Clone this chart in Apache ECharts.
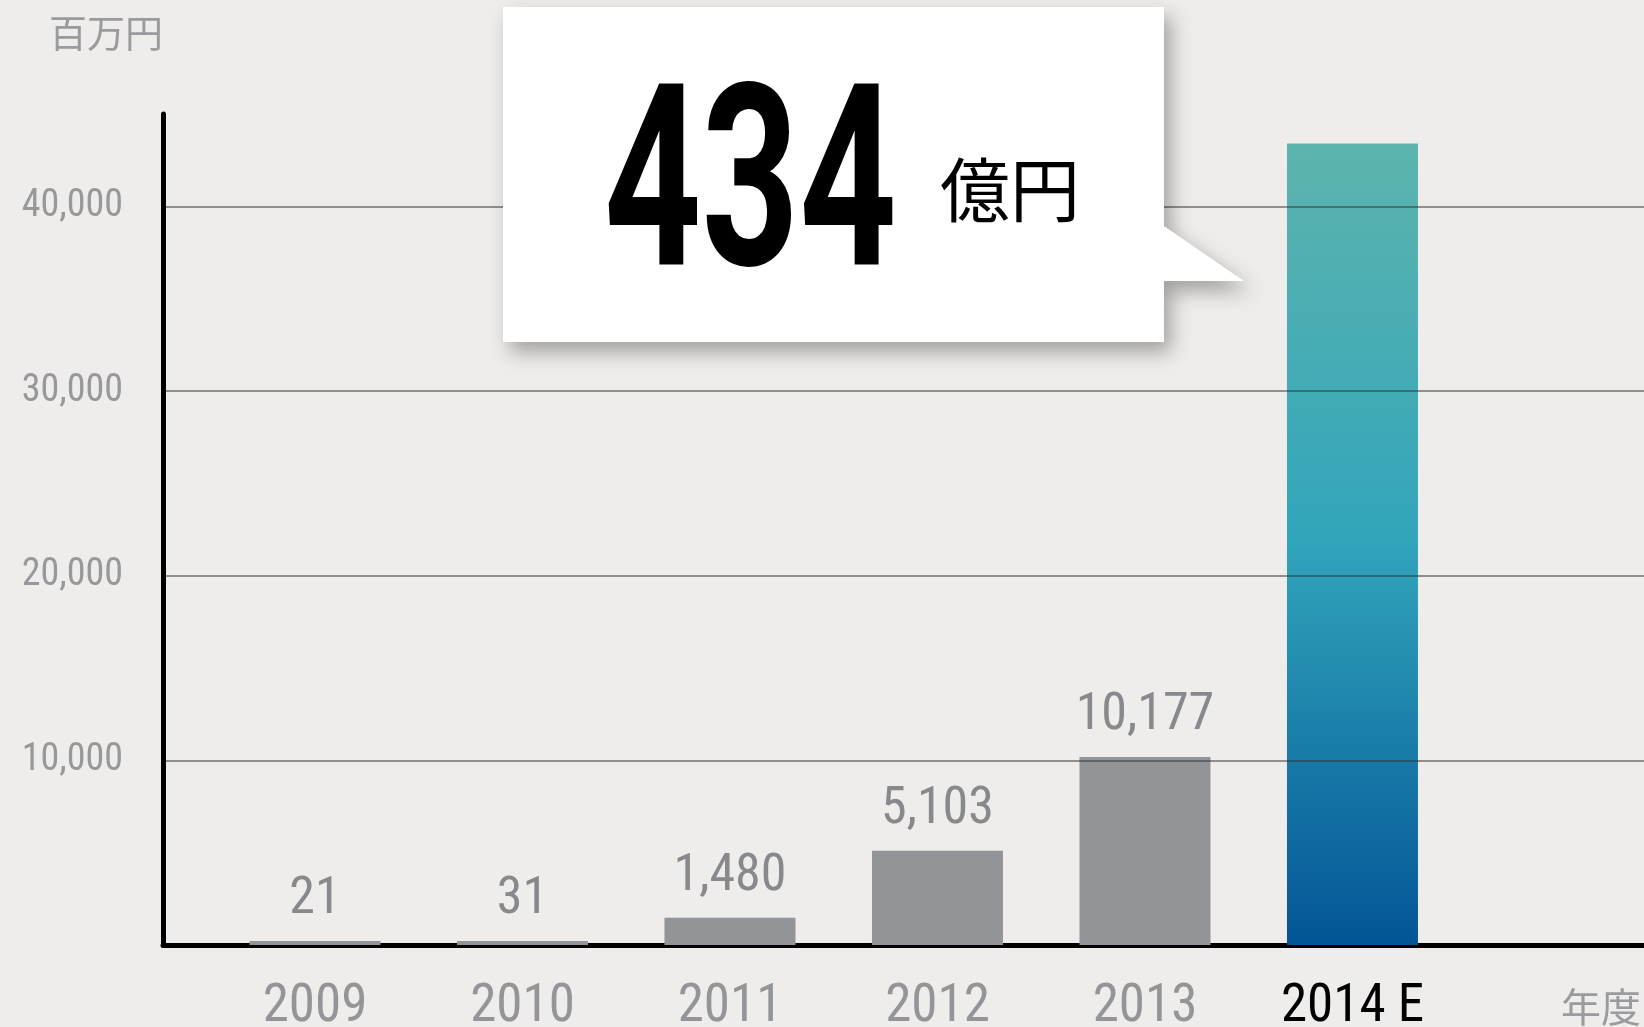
<!DOCTYPE html>
<html>
<head>
<meta charset="utf-8">
<script src="https://cdn.jsdelivr.net/npm/echarts@6/dist/echarts.min.js"></script>
<style>
  html, body { margin: 0; padding: 0; background: #eeedeb; }
  #sales-chart { width: 1644px; height: 1027px; }
</style>
</head>
<body>
<div id="sales-chart"></div>
<script>
// 売上高 (百万円)
var years = ['2009', '2010', '2011', '2012', '2013', '2014 E'];
var sales = [21, 31, 1480, 5103, 10177, 43400];
var yTickStep = 10000;
var yMax = 45000;

var numFont = '"Roboto Condensed", "DejaVu Sans Condensed", sans-serif';
var bigFont = 'Roboto, sans-serif';
var jpFont = '"Noto Sans CJK JP", sans-serif';

var chart = echarts.init(document.getElementById('sales-chart'));
var last = years.length - 1;

function fmt(v) {
    return v.toLocaleString('en-US');
}

var options = {
    backgroundColor: '#eeedeb',
    animation: false,
    grid: { left: 163, right: 0, top: 114, bottom: 82, outerBoundsMode: 'none' },
    xAxis: {
        type: 'value',
        min: -0.7325,
        max: 6.405,
        name: '年度',
        nameLocation: 'end',
        nameGap: -3,
        nameTextStyle: {
            align: 'right', verticalAlign: 'top', padding: [42, 0, 0, 0],
            color: '#9a9b9e', fontFamily: jpFont, fontSize: 40, lineHeight: 40
        },
        axisLine: { onZero: false, lineStyle: { color: '#000', width: 5 } },
        axisTick: { show: false },
        splitLine: { show: false },
        axisLabel: {
            customValues: years.map(function (y, i) { return i; }),
            margin: 36,
            fontFamily: numFont,
            fontSize: 53,
            lineHeight: 53,
            color: '#949598',
            formatter: function (v) {
                var i = Math.round(v);
                return i === last ? '{est|' + years[i] + '}' : years[i];
            },
            rich: {
                est: { color: '#000', fontFamily: numFont, fontSize: 53, lineHeight: 53 }
            }
        }
    },
    yAxis: {
        type: 'value',
        min: 0,
        max: yMax,
        interval: yTickStep,
        z: 3,
        name: '百万円',
        nameLocation: 'end',
        nameGap: 61,
        nameTextStyle: {
            align: 'right', color: '#9a9b9e', fontFamily: jpFont, fontSize: 38, lineHeight: 40
        },
        axisLine: { show: true, onZero: false, lineStyle: { color: '#000', width: 5 } },
        axisTick: { show: false },
        axisLabel: {
            margin: 40,
            showMaxLabel: false,
            showMinLabel: false,
            fontFamily: numFont,
            fontSize: 38,
            color: '#97989b',
            formatter: function (v) { return fmt(v); }
        },
        splitLine: {
            showMinLine: false,
            showMaxLine: false,
            lineStyle: { color: 'rgba(50,50,50,0.5)', width: 2 }
        }
    },
    series: [{
        type: 'bar',
        barWidth: 131,
        barMinHeight: 4,
        data: sales.map(function (v, i) { return [i, v]; }),
        itemStyle: {
            color: function (p) {
                if (p.dataIndex === last) {
                    return new echarts.graphic.LinearGradient(0, 0, 0, 1, [
                        { offset: 0, color: '#5db4ad' },
                        { offset: 0.5, color: '#31a5bb' },
                        { offset: 1, color: '#035596' }
                    ]);
                }
                return '#939497';
            }
        },
        label: {
            show: true,
            position: 'top',
            distance: 15,
            fontFamily: numFont,
            fontSize: 52,
            lineHeight: 52,
            color: '#88898c',
            formatter: function (p) {
                return p.dataIndex === last ? '' : fmt(p.value[1]);
            }
        }
    }],
    graphic: [
        {
            type: 'polygon',
            z: 100,
            shape: {
                points: [[503, 7], [1164, 7], [1164, 226], [1244, 281], [1164, 281], [1164, 342], [503, 342]]
            },
            style: {
                fill: '#fff',
                shadowBlur: 20,
                shadowColor: 'rgba(0,0,0,0.32)',
                shadowOffsetX: 7,
                shadowOffsetY: 10
            }
        },
        {
            // 億円 = 百万円 / 100
            type: 'text',
            z: 101,
            x: 604,
            y: 201,
            scaleX: 0.667,
            style: {
                text: String(Math.round(sales[last] / 100)),
                fill: '#000',
                font: 'bold 255px ' + bigFont,
                textAlign: 'left',
                textVerticalAlign: 'middle'
            }
        },
        {
            type: 'text',
            z: 101,
            x: 940,
            y: 190,
            style: {
                text: '億円',
                fill: '#000',
                font: '70px ' + jpFont,
                textAlign: 'left',
                textVerticalAlign: 'middle'
            }
        }
    ]
};

chart.setOption(options);
window.addEventListener('resize', function () {
    chart.resize();
});
</script>
</body>
</html>
